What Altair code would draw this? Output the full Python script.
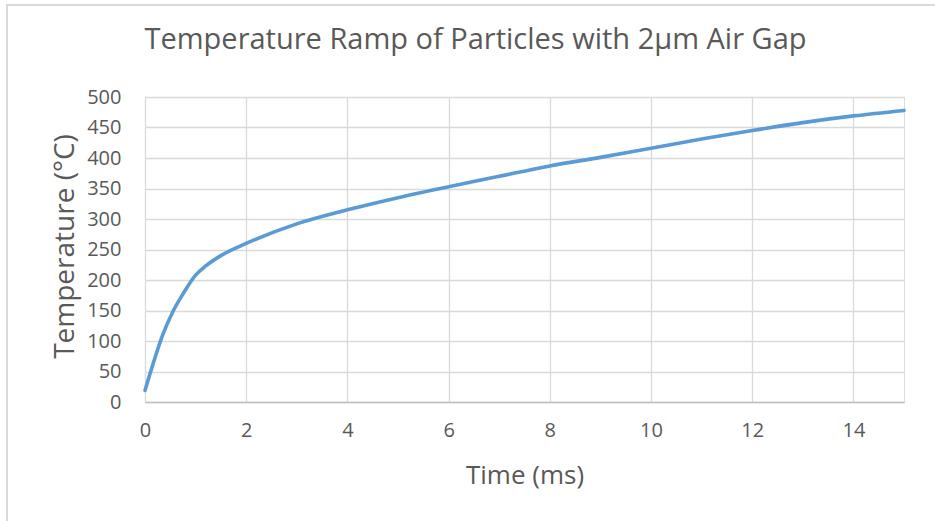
import altair as alt
import pandas as pd

# Time (ms)
time_ms = [0, 0.15, 0.35, 0.55, 0.75, 1.0, 1.2, 1.5, 2, 3, 4, 5, 6, 7, 8, 9, 10, 11, 12, 13, 14, 15]
# Temperature (°C)
temperature = [19, 60, 110, 148, 177, 208, 223, 240, 260, 292, 315, 335, 353, 370, 387, 401, 416, 431, 445, 458, 469, 478]

x_ticks = [0, 2, 4, 6, 8, 10, 12, 14]
y_ticks = [0, 50, 100, 150, 200, 250, 300, 350, 400, 450, 500]

df = pd.DataFrame({"t": time_ms, "T": temperature})

FONT = "Open Sans"
TXT = "#595959"

line = alt.Chart(df).mark_line(
    color="#5B9BD5", strokeWidth=3.6, interpolate="monotone", strokeCap="round"
).encode(
    x=alt.X(
        "t:Q",
        scale=alt.Scale(domain=[0, 15], nice=False, zero=False),
        axis=alt.Axis(
            title="Time (ms)",
            values=x_ticks,
            grid=True,
            gridColor="#D9D9D9",
            gridWidth=1.3,
            domainColor="#BFBFBF",
            domainWidth=1.3,
            ticks=False,
            labelPadding=18,
            labelFontSize=20,
            labelColor=TXT,
            labelFont=FONT,
            labelFlush=False,
            titleFont=FONT,
            titleFontSize=26,
            titleFontWeight="normal",
            titleColor=TXT,
            titleY=73,
            titleBaseline="middle",
        ),
    ),
    y=alt.Y(
        "T:Q",
        scale=alt.Scale(domain=[0, 500], nice=False),
        axis=alt.Axis(
            title="Temperature (°C)",
            values=y_ticks,
            grid=True,
            gridColor="#D9D9D9",
            gridWidth=1.3,
            domain=False,
            ticks=False,
            labelPadding=24,
            labelFontSize=20,
            labelColor=TXT,
            labelFont=FONT,
            titleFont=FONT,
            titleFontSize=28,
            titleFontWeight="normal",
            titleColor=TXT,
            titleX=-80,
            titleY=149,
            titleAngle=270,
            titleBaseline="middle",
            titleAlign="center",
        ),
    ),
)

frame = alt.Chart(df).mark_rect(
    fill=None, stroke="#D9D9D9", strokeWidth=1.2
).encode(
    x=alt.value(-138), x2=alt.value(800), y=alt.value(-92), y2=alt.value(440)
)

chart = alt.layer(frame, line).properties(
    width=759,
    height=305,
    title=alt.TitleParams(
        "Temperature Ramp of Particles with 2µm Air Gap",
        font=FONT,
        fontSize=29,
        fontWeight="normal",
        color=TXT,
        anchor="middle",
        baseline="alphabetic",
        dx=-49,
        offset=-74,
    ),
    autosize=alt.AutoSizeParams(type="none"),
    padding={"left": 145, "top": 97, "right": 31, "bottom": 119},
).configure_view(stroke=None).configure(background="white")

chart.save("out.html", embed_options={"renderer": "svg", "actions": False})
